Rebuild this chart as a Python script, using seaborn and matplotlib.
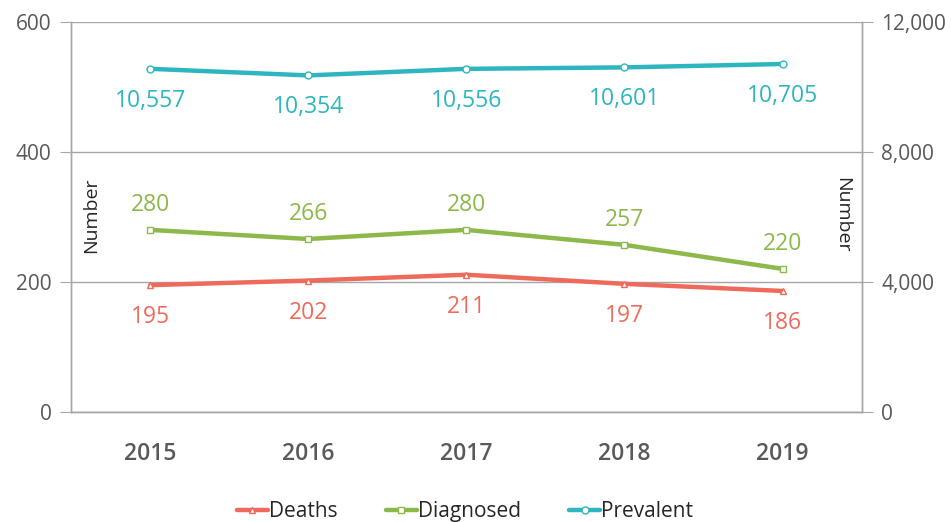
import pandas as pd
import matplotlib.pyplot as plt
import seaborn as sns
import numpy as np

years = [2015, 2016, 2017, 2018, 2019]
deaths = [195, 202, 211, 197, 186]
diagnosed = [280, 266, 280, 257, 220]
prevalent = [10557, 10354, 10556, 10601, 10705]

c_deaths = '#EE6B5C'
c_diag = '#8DB84A'
c_prev = '#2DB6BF'
gridc = '#A6A6A6'
txtc = '#595959'

sns.set_style('white')
plt.rcParams['font.family'] = ['Open Sans', 'DejaVu Sans']

df = pd.DataFrame({'year': years, 'Deaths': deaths, 'Diagnosed': diagnosed, 'Prevalent': prevalent})

fig, ax = plt.subplots(figsize=(9.51, 5.22), dpi=100)
fig.subplots_adjust(left=0.0747, right=0.906, top=0.958, bottom=0.211)
ax2 = ax.twinx()

sns.lineplot(data=df, x='year', y='Deaths', ax=ax, color=c_deaths, lw=3.2, marker='^',
             markersize=5, markerfacecolor='white', markeredgecolor=c_deaths, markeredgewidth=1, label='Deaths', legend=False)
sns.lineplot(data=df, x='year', y='Diagnosed', ax=ax, color=c_diag, lw=3.2, marker='s',
             markersize=5, markerfacecolor='white', markeredgecolor=c_diag, markeredgewidth=1, label='Diagnosed', legend=False)
sns.lineplot(data=df, x='year', y='Prevalent', ax=ax2, color=c_prev, lw=3.2, marker='o',
             markersize=5, markerfacecolor='white', markeredgecolor=c_prev, markeredgewidth=1, label='Prevalent', legend=False)

for x, v in zip(years, deaths):
    ax.annotate(f'{v}', (x, v), xytext=(0, -23), textcoords='offset points', ha='center', va='center',
                color=c_deaths, fontsize=16.5)
for x, v in zip(years, diagnosed):
    ax.annotate(f'{v}', (x, v), xytext=(0, 18), textcoords='offset points', ha='center', va='center',
                color=c_diag, fontsize=16.5)
for x, v in zip(years, prevalent):
    ax2.annotate(f'{v:,}', (x, v), xytext=(0, -23), textcoords='offset points', ha='center', va='center',
                 color=c_prev, fontsize=16.5)

ax.set_xlim(2014.5, 2019.5)
ax.set_ylim(0, 600)
ax2.set_ylim(0, 12000)
ax.set_yticks([0, 200, 400, 600])
ax2.set_yticks([0, 4000, 8000, 12000])
ax2.set_yticklabels([f'{t:,}' for t in [0, 4000, 8000, 12000]])
ax.set_xticks(years)
ax.set_xticklabels([str(y) for y in years], fontsize=16.5, color=txtc, fontweight='semibold')
ax.set_xticks(np.arange(2014.5, 2020, 1), minor=True)
ax.tick_params(axis='x', which='major', length=0, pad=22)
ax.tick_params(axis='x', which='minor', length=8, color=gridc, direction='inout')
ax.tick_params(axis='y', length=8, color=gridc, labelsize=15, labelcolor=txtc, pad=6)
ax2.tick_params(axis='y', length=8, color=gridc, labelsize=15, labelcolor=txtc, pad=6)
ax.grid(axis='y', color=gridc, lw=1)
ax.set_xlabel('')
ax.set_ylabel('')
ax2.set_ylabel('')

for a in (ax, ax2):
    a.spines['top'].set_visible(False)
    for s in ('left', 'right', 'bottom'):
        a.spines[s].set_color(gridc)
        a.spines[s].set_linewidth(1)

ax.text(0.025, 0.505, 'Number', transform=ax.transAxes, rotation=90, ha='center', va='center',
        fontsize=14, color='#262626')
ax.text(0.975, 0.505, 'Number', transform=ax.transAxes, rotation=270, ha='center', va='center',
        fontsize=14, color='#262626')

h1, l1 = ax.get_legend_handles_labels()
h2, l2 = ax2.get_legend_handles_labels()
fig.legend(h1 + h2, l1 + l2, loc='lower center', bbox_to_anchor=(0.489, -0.036), ncol=3, frameon=False,
           fontsize=15, handlelength=1.5, handletextpad=0.05, columnspacing=2.3, labelcolor='#262626')

fig.savefig('out.png', dpi=100)
